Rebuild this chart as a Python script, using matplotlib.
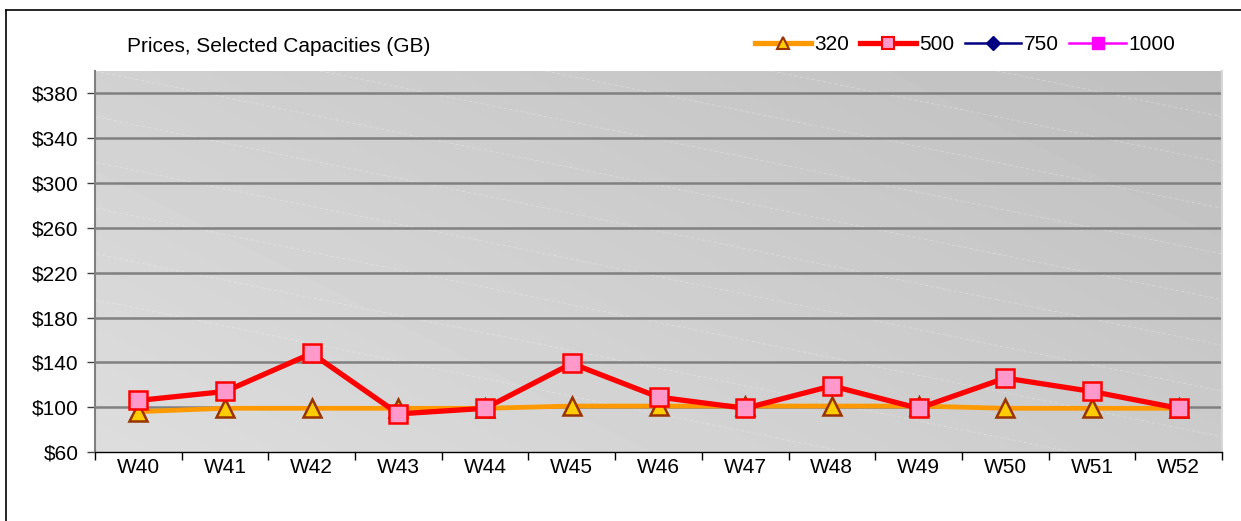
import numpy as np
import matplotlib
matplotlib.use("Agg")
import matplotlib.pyplot as plt
from matplotlib.lines import Line2D

plt.rcParams['font.family'] = ['Liberation Sans', 'DejaVu Sans']

# ---- data ----
weeks = ["W40", "W41", "W42", "W43", "W44", "W45", "W46",
         "W47", "W48", "W49", "W50", "W51", "W52"]
price_320 = [96, 99, 99, 99, 99, 101, 101, 101, 101, 101, 99, 99, 99]
price_500 = [106, 114, 148, 94, 99, 139, 109, 99, 119, 99, 126, 114, 99]
price_750 = []
price_1000 = []
yticks = [60, 100, 140, 180, 220, 260, 300, 340, 380]
ytick_labels = ["$60", "$100", "$140", "$180", "$220", "$260", "$300", "$340", "$380"]
title = "Prices, Selected Capacities (GB)"
series_names = ["320", "500", "750", "1000"]

FS = 15

W, H = 1241, 521
fig = plt.figure(figsize=(W / 100, H / 100), dpi=100)
fig.patch.set_facecolor("white")

# outer chart frame (clipped at right and bottom as in reference)
fig.add_artist(Line2D([6 / W, 6 / W], [0, 1 - 10 / H], color="black", lw=1.2, transform=fig.transFigure))
fig.add_artist(Line2D([6 / W, 1], [1 - 10 / H, 1 - 10 / H], color="black", lw=1.2, transform=fig.transFigure))

left, right, top, bottom = 95, 1222, 71, 452
ax = fig.add_axes([left / W, 1 - bottom / H, (right - left) / W, (bottom - top) / H])

# gradient background: light bottom-left to darker top-right
gx = np.linspace(0, 1, 200)
gy = np.linspace(0, 1, 100)
GX, GY = np.meshgrid(gx, gy)
t = (GX * 0.6 + GY * 0.4)
light, dark = 0xDD / 255, 0xBF / 255
img = light + (dark - light) * t
ax.imshow(img, extent=[0, 1, 0, 1], origin="lower", cmap="gray", vmin=0, vmax=1,
          aspect="auto", transform=ax.transAxes, zorder=0, interpolation="bilinear")

# faint diagonal texture lines
for s in np.arange(-1.0, 1.2, 0.2):
    ax.plot([s, s + 1.0], [1.0, 0.4], transform=ax.transAxes, color="white",
            lw=0.6, ls=(0, (4, 3)), alpha=0.3, zorder=0.5, clip_on=True)
    ax.plot([s + 1.0, s + 2.0], [0.4, -0.2], transform=ax.transAxes, color="white",
            lw=0.6, ls=(0, (4, 3)), alpha=0.3, zorder=0.5, clip_on=True)

ax.set_xlim(-0.5, len(weeks) - 0.5)
ax.set_ylim(60, 400)

# grid lines
for yv in yticks[1:]:
    ax.axhline(yv, color="#808080", lw=1.8, zorder=1)

x = np.arange(len(weeks))
ax.plot(x, price_320, color="#FF9900", lw=3.4, marker="^", markersize=13.5,
        markerfacecolor="#FFCC00", markeredgecolor="#993300", markeredgewidth=1.8, zorder=3)
ax.plot(x, price_500, color="#FF0000", lw=3.8, marker="s", markersize=13,
        markerfacecolor="#FF99CC", markeredgecolor="#FF0000", markeredgewidth=1.8, zorder=4)
ax.plot(np.arange(len(price_750)), price_750, color="#000080", marker="D", zorder=4)
ax.plot(np.arange(len(price_1000)), price_1000, color="#FF00FF", marker="s", zorder=4)

ax.set_yticks(yticks)
ax.set_yticklabels(ytick_labels)
ax.set_xticks(x)
ax.set_xticklabels(weeks)
ax.set_xticks(np.arange(-0.5, len(weeks), 1.0), minor=True)
ax.tick_params(axis="x", which="major", length=0, pad=4, labelsize=FS, colors="black")
ax.tick_params(axis="x", which="minor", length=6, width=1, color="black", direction="out")
ax.tick_params(axis="y", length=6, width=1, color="#404040", pad=6, labelsize=FS)

ax.spines["top"].set_visible(False)
ax.spines["right"].set_color("#D8D8D8")
ax.spines["right"].set_linewidth(1.5)
ax.spines["left"].set_color("#808080")
ax.spines["left"].set_linewidth(1.5)
ax.spines["bottom"].set_color("black")
ax.spines["bottom"].set_linewidth(1.0)

fig.text(127 / W, 1 - 46 / H, title, fontsize=FS, va="center", ha="left")

handles = [
    Line2D([], [], color="#FF9900", lw=3.8, marker="^", markersize=9,
           markerfacecolor="#FFCC00", markeredgecolor="#993300", markeredgewidth=1.5),
    Line2D([], [], color="#FF0000", lw=3.8, marker="s", markersize=9,
           markerfacecolor="#FF99CC", markeredgecolor="#FF0000", markeredgewidth=1.5),
    Line2D([], [], color="#000080", lw=1.8, marker="D", markersize=7,
           markerfacecolor="#000080", markeredgecolor="#000080"),
    Line2D([], [], color="#FF00FF", lw=1.8, marker="s", markersize=8,
           markerfacecolor="#FF00FF", markeredgecolor="#FF00FF"),
]
fig.legend(handles, series_names, loc="center left", bbox_to_anchor=(755 / W, 1 - 45 / H),
           ncol=4, frameon=False, fontsize=FS, handlelength=2.7, handletextpad=0.15,
           columnspacing=0.5, borderpad=0, borderaxespad=0)

fig.savefig("out.png", dpi=100)
